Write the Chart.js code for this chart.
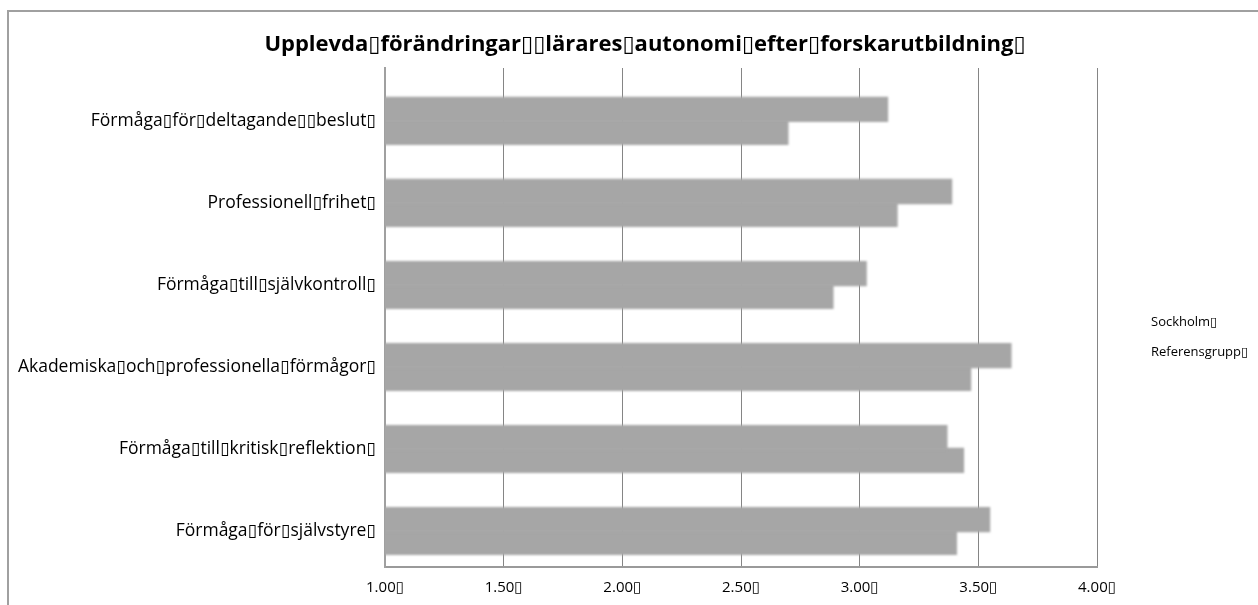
<!DOCTYPE html>
<html>
<head>
<meta charset="utf-8">
<script src="https://cdn.jsdelivr.net/npm/chart.js@4.4.0/dist/chart.umd.min.js"></script>
<style>
  html, body { margin: 0; padding: 0; background: #ffffff; }
  #wrap { width: 1258px; height: 605px; position: relative; }
</style>
</head>
<body>
<div id="wrap"><canvas id="c" width="1258" height="605"></canvas></div>
<script>
// Placeholder glyph that stands in for the unresolved characters of the source text
const BOX = '\u25AF';

const chartTitle = 'Upplevda' + BOX + 'förändringar' + BOX + BOX + 'lärares' + BOX + 'autonomi' + BOX + 'efter' + BOX + 'forskarutbildning' + BOX;

const categories = [
  'Förmåga' + BOX + 'för' + BOX + 'deltagande' + BOX + BOX + 'beslut' + BOX,
  'Professionell' + BOX + 'frihet' + BOX,
  'Förmåga' + BOX + 'till' + BOX + 'självkontroll' + BOX,
  'Akademiska' + BOX + 'och' + BOX + 'professionella' + BOX + 'förmågor' + BOX,
  'Förmåga' + BOX + 'till' + BOX + 'kritisk' + BOX + 'reflektion' + BOX,
  'Förmåga' + BOX + 'för' + BOX + 'självstyre' + BOX
];

const seriesNames = ['Sockholm' + BOX, 'Referensgrupp' + BOX];

const sockholm      = [3.12, 3.39, 3.03, 3.64, 3.37, 3.55];
const referensgrupp = [2.70, 3.16, 2.89, 3.47, 3.44, 3.41];

const xTickValues = [1.0, 1.5, 2.0, 2.5, 3.0, 3.5, 4.0];
const xTickLabels = ['1.00' + BOX, '1.50' + BOX, '2.00' + BOX, '2.50' + BOX, '3.00' + BOX, '3.50' + BOX, '4.00' + BOX];

const FONT = '"Open Sans", "DejaVu Sans", sans-serif';
const BAR_GREY = '#a6a6a6';

// Category rows sit on a numeric index axis (row 0 at the top)
const rowIndex = categories.map((_, i) => i);
const ROW_MIN = -0.646;
const ROW_MAX = 5.439;
const toPoints = values => values.map((v, i) => ({ x: v, y: rowIndex[i] }));

// Outer frame of the chart object
const framePlugin = {
  id: 'frame',
  afterDraw(chart) {
    const ctx = chart.ctx;
    ctx.save();
    ctx.strokeStyle = '#a0a0a0';
    ctx.lineWidth = 2;
    ctx.strokeRect(8, 11, 1400, 800);
    ctx.restore();
  }
};

// Soft edges on the bars
const softBars = {
  id: 'softBars',
  beforeDatasetsDraw(chart) {
    chart.ctx.save();
    chart.ctx.filter = 'blur(1px)';
  },
  afterDatasetsDraw(chart) {
    chart.ctx.restore();
  }
};

// Heading and text-only legend
const textBlocks = {
  id: 'textBlocks',
  afterDraw(chart) {
    const ctx = chart.ctx;
    ctx.save();
    ctx.fillStyle = '#000000';
    ctx.textBaseline = 'middle';

    ctx.font = 'bold 22px ' + FONT;
    ctx.textAlign = 'center';
    ctx.fillText(chartTitle, 645, 45);

    ctx.font = '13px ' + FONT;
    ctx.textAlign = 'left';
    chart.data.datasets.forEach((ds, i) => {
      ctx.fillText(ds.label, 1151, 322 + i * 30);
    });
    ctx.restore();
  }
};

new Chart(document.getElementById('c'), {
  type: 'bar',
  data: {
    datasets: [
      { label: seriesNames[0], data: toPoints(sockholm), backgroundColor: BAR_GREY, borderWidth: 0 },
      { label: seriesNames[1], data: toPoints(referensgrupp), backgroundColor: BAR_GREY, borderWidth: 0 }
    ]
  },
  options: {
    indexAxis: 'y',
    responsive: false,
    animation: false,
    categoryPercentage: 0.56,
    barPercentage: 1.1,
    layout: { padding: { left: 0, right: 161, top: 68, bottom: 0 } },
    plugins: {
      legend: { display: false },
      tooltip: { enabled: false },
      title: { display: false }
    },
    scales: {
      x: {
        type: 'linear',
        min: 1,
        max: 4,
        z: 1,
        afterBuildTicks(scale) {
          scale.ticks = xTickValues.map(v => ({ value: v }));
        },
        afterFit(scale) { scale.height = 38; },
        ticks: {
          color: '#000000',
          font: { family: FONT, size: 15 },
          padding: 12,
          maxRotation: 0,
          callback: (v, i) => xTickLabels[i]
        },
        grid: { color: '#858585', lineWidth: 1, drawTicks: false },
        border: { display: true, color: '#9a9a9a', width: 2 }
      },
      y: {
        type: 'linear',
        reverse: true,
        offset: false,
        bounds: 'data',
        min: ROW_MIN,
        max: ROW_MAX,
        afterBuildTicks(scale) {
          scale.ticks = rowIndex.map(v => ({ value: v }));
          scale.min = ROW_MIN;
          scale.max = ROW_MAX;
        },
        afterFit(scale) { scale.width = 385; },
        ticks: {
          color: '#000000',
          font: { family: FONT, size: 17.5 },
          padding: 9,
          autoSkip: false,
          callback: (v, i) => categories[i]
        },
        grid: { display: false, offset: false, drawTicks: false },
        border: { display: true, color: '#a0a0a0', width: 2 }
      }
    }
  },
  plugins: [framePlugin, softBars, textBlocks]
});
</script>
</body>
</html>
